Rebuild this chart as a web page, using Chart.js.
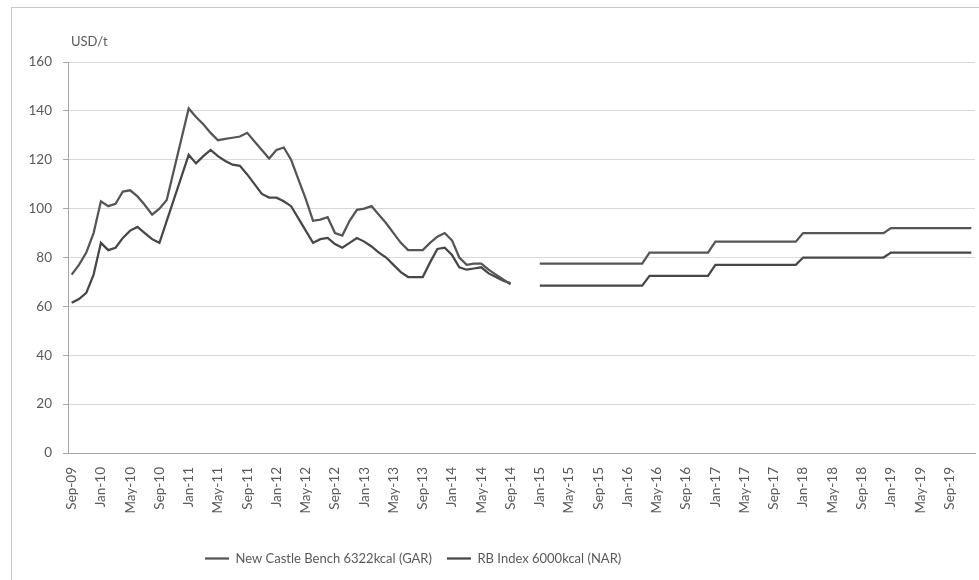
<!DOCTYPE html>
<html>
<head>
<meta charset="utf-8">
<script src="https://cdn.jsdelivr.net/npm/chart.js@4"></script>
<style>
html,body{margin:0;padding:0;background:#fff;}
#wrap{position:relative;width:979px;height:580px;}
#frame{position:absolute;left:11px;top:7px;right:-2px;bottom:-2px;border-left:1px solid #c8c8c8;border-top:1px solid #c8c8c8;pointer-events:none;}
canvas{position:absolute;left:0;top:0;}
</style>
</head>
<body>
<div id="wrap"><canvas id="c" width="979" height="580"></canvas><div id="frame"></div></div>
<script>
// Categories: monthly, Sep-09 .. Dec-19
const monthNames = ['Jan','Feb','Mar','Apr','May','Jun','Jul','Aug','Sep','Oct','Nov','Dec'];
const firstYear = 2009, firstMonth = 8, monthCount = 124;
const categories = [];
for (let k = 0; k < monthCount; k++) {
  const m = (firstMonth + k) % 12, y = firstYear + Math.floor((firstMonth + k) / 12);
  categories.push(monthNames[m] + '-' + String(y % 100).padStart(2, '0'));
}
const labelEvery = 4;
const yTicks = [0, 20, 40, 60, 80, 100, 120, 140, 160];
const unitLabel = 'USD/t';
const seriesNames = ['New Castle Bench 6322kcal (GAR)', 'RB Index 6000kcal (NAR)'];

// Actual monthly values Sep-09 .. Sep-14
const newcastleActual = [
  73, 77, 82, 90, 103, 101, 102, 107, 107.5, 105, 101.5, 97.5,
  100, 103.5, 116, 128.5, 141, 137.5, 134.5, 131, 128, 128.5, 129, 129.5,
  131, 127.5, 124, 120.5, 124, 125, 120, 112, 104, 95, 95.5, 96.5,
  90, 89, 95, 99.5, 100, 101, 97.5, 94, 90, 86, 83, 83,
  83, 86, 88.5, 90, 87, 80, 77, 77.5, 77.5, 75, 73, 71,
  69
];
const rbActual = [
  61.5, 63, 65.5, 73, 86, 83, 84, 88, 91, 92.5, 90, 87.5,
  86, 95, 104, 113, 122, 118.5, 121.5, 124, 121.5, 119.5, 118, 117.5,
  114, 110, 106, 104.5, 104.5, 103, 101, 96, 91, 86, 87.5, 88,
  85.5, 84, 86, 88, 86.5, 84.5, 82, 80, 77, 74, 72, 72,
  72, 78, 83.5, 84, 81, 76, 75, 75.5, 76, 73.5, 72, 70.5,
  69.5
];
// Gap Oct-14 .. Dec-14
const gapMonths = [null, null, null];
// Forecast monthly values Jan-15 .. Dec-19
const newcastleForecast = [
  77.5, 77.5, 77.5, 77.5, 77.5, 77.5, 77.5, 77.5, 77.5, 77.5, 77.5, 77.5,
  77.5, 77.5, 77.5, 82, 82, 82, 82, 82, 82, 82, 82, 82,
  86.5, 86.5, 86.5, 86.5, 86.5, 86.5, 86.5, 86.5, 86.5, 86.5, 86.5, 86.5,
  90, 90, 90, 90, 90, 90, 90, 90, 90, 90, 90, 90,
  92, 92, 92, 92, 92, 92, 92, 92, 92, 92, 92, 92
];
const rbForecast = [
  68.5, 68.5, 68.5, 68.5, 68.5, 68.5, 68.5, 68.5, 68.5, 68.5, 68.5, 68.5,
  68.5, 68.5, 68.5, 72.5, 72.5, 72.5, 72.5, 72.5, 72.5, 72.5, 72.5, 72.5,
  77, 77, 77, 77, 77, 77, 77, 77, 77, 77, 77, 77,
  80, 80, 80, 80, 80, 80, 80, 80, 80, 80, 80, 80,
  82, 82, 82, 82, 82, 82, 82, 82, 82, 82, 82, 82
];

const newcastle = newcastleActual.concat(gapMonths, newcastleForecast);
const rb = rbActual.concat(gapMonths, rbForecast);

const FONT = 'Lato, "Liberation Sans", sans-serif';
const TXT = '#595959';

const unitPlugin = {
  id: 'unitLabel',
  afterLayout(chart) {
    if (chart.legend) {
      const w = chart.legend.right - chart.legend.left;
      chart.legend.left = 190;
      chart.legend.right = 190 + w;
    }
  },
  afterDraw(chart) {
    const {ctx, chartArea} = chart;
    ctx.save();
    ctx.font = '13px ' + FONT;
    ctx.fillStyle = TXT;
    ctx.textAlign = 'left';
    ctx.textBaseline = 'middle';
    ctx.fillText(unitLabel, chartArea.left + 3, chartArea.top - 20);
    ctx.restore();
  }
};

new Chart(document.getElementById('c'), {
  type: 'line',
  data: {
    labels: categories,
    datasets: [
      { label: seriesNames[0], data: newcastle, borderColor: '#555555', backgroundColor: '#555555',
        borderWidth: 2.25, pointRadius: 0, tension: 0, spanGaps: false },
      { label: seriesNames[1], data: rb, borderColor: '#474747', backgroundColor: '#474747',
        borderWidth: 2.25, pointRadius: 0, tension: 0, spanGaps: false }
    ]
  },
  options: {
    responsive: false,
    animation: false,
    layout: { padding: { left: 0, right: 4, top: 62, bottom: 5 } },
    plugins: {
      legend: {
        position: 'bottom',
        align: 'start',
        labels: {
          usePointStyle: true, pointStyle: 'line', pointStyleWidth: 24,
          color: TXT, font: { family: FONT, size: 13 }, padding: 15
        }
      },
      tooltip: { enabled: false }
    },
    scales: {
      x: {
        type: 'category',
        offset: true,
        grid: { display: false },
        border: { display: true, color: '#a6a6a6', width: 1 },
        afterFit(s) { s.height = 84; s.paddingRight = 0; s.paddingLeft = 0; },
        ticks: {
          autoSkip: false, maxRotation: 90, minRotation: 90, padding: 6,
          color: TXT, font: { family: FONT, size: 13.5 },
          callback(v, i) { return i % labelEvery === 0 ? categories[i] : ''; }
        }
      },
      y: {
        min: 0, max: 160,
        afterFit(s) { s.width = 68; },
        afterBuildTicks(s) { s.ticks = yTicks.map(v => ({ value: v })); },
        grid: { color: '#d9d9d9', lineWidth: 1, drawTicks: true, tickLength: 5, tickColor: '#a6a6a6' },
        border: { display: true, color: '#a6a6a6', width: 1 },
        ticks: { padding: 11, color: TXT, font: { family: FONT, size: 13.5 } }
      }
    }
  },
  plugins: [unitPlugin]
});
</script>
</body>
</html>
